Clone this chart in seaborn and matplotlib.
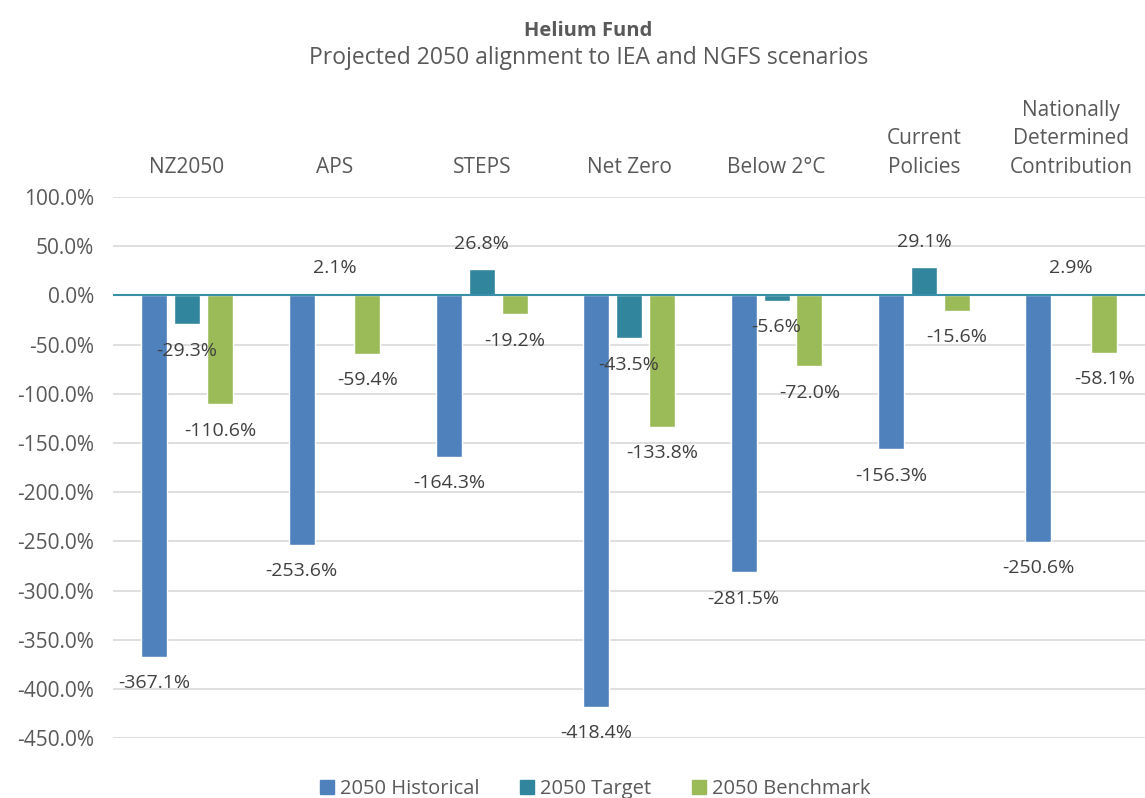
import pandas as pd
import numpy as np
import matplotlib
matplotlib.use("Agg")
import matplotlib.pyplot as plt
import seaborn as sns

scenarios = ["NZ2050", "APS", "STEPS", "Net Zero", "Below 2°C",
             "Current\nPolicies", "Nationally\nDetermined\nContribution"]
series = ["2050 Historical", "2050 Target", "2050 Benchmark"]
historical = [-367.1, -253.6, -164.3, -418.4, -281.5, -156.3, -250.6]
target = [-29.3, 2.1, 26.8, -43.5, -5.6, 29.1, 2.9]
benchmark = [-110.6, -59.4, -19.2, -133.8, -72.0, -15.6, -58.1]
colors = ["#4F81BD", "#31859C", "#9BBB59"]
yticks = np.arange(-450, 101, 50)

df = pd.DataFrame({
    "Scenario": scenarios * 3,
    "Series": [s for s in series for _ in scenarios],
    "Value": historical + target + benchmark,
})

sns.set_theme(style="white")
plt.rcParams['font.family'] = ['Open Sans', 'DejaVu Sans']

fig = plt.figure(figsize=(11.45, 7.98), dpi=100)
ax = fig.add_axes([0.099, 0.075, 0.901, 0.678])

sns.barplot(data=df, x="Scenario", y="Value", hue="Series", order=scenarios,
            hue_order=series, palette=colors, width=0.67, gap=0.21,
            saturation=1, legend=False, ax=ax)

ax.set_ylim(-450, 100)
ax.set_yticks(yticks)
ax.set_yticklabels([f"{v:.1f}%" for v in yticks], fontsize=15, color="#595959")
ax.yaxis.grid(True, color="#D9D9D9", linewidth=1.2)
ax.set_axisbelow(True)
ax.axhline(0, color="#3A8FAA", linewidth=1.5, zorder=3)

ax.xaxis.tick_top()
ax.tick_params(axis="x", length=0, pad=14, labelsize=15, labelcolor="#595959")
for lbl in ax.get_xticklabels():
    lbl.set_linespacing(1.45)
ax.tick_params(axis="y", length=0, pad=14)
ax.set_xlabel("")
ax.set_ylabel("")
for s in ax.spines.values():
    s.set_visible(False)

# data labels outside bar ends
for cont in ax.containers:
    for bar in cont:
        h = bar.get_height()
        x = bar.get_x() + bar.get_width() / 2
        off = 18 if h >= 0 else -19
        ax.annotate(f"{h:.1f}%", (x, h), xytext=(0, off), textcoords="offset points",
                    ha="center", va="center", fontsize=14, color="#404040")

fig.text(0.514, 0.961, "Helium Fund", ha="center", va="center",
         fontsize=14.5, fontweight="bold", color="#595959")
fig.text(0.514, 0.927, "Projected 2050 alignment to IEA and NGFS scenarios",
         ha="center", va="center", fontsize=16.5, color="#595959")

handles = [plt.Rectangle((0, 0), 1, 1, color=c) for c in colors]
fig.legend(handles, series, loc="lower center", bbox_to_anchor=(0.52, -0.024),
           ncol=3, frameon=False, fontsize=14.5, handlelength=0.7, handleheight=0.7,
           columnspacing=2.0, handletextpad=0.3, labelcolor="#595959")

fig.savefig("out.png", dpi=100)
